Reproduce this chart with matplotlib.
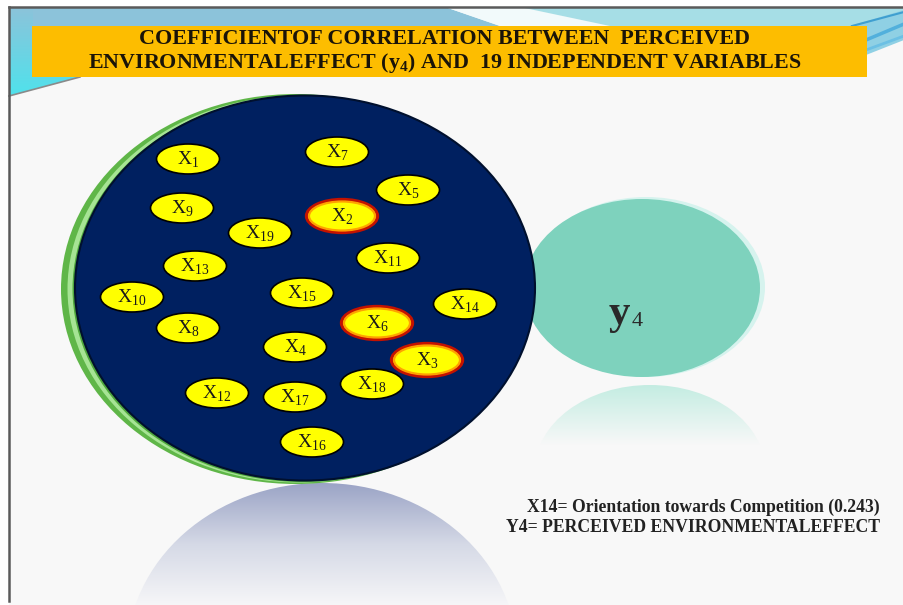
import numpy as np
import matplotlib
matplotlib.use("Agg")
import matplotlib.pyplot as plt
from matplotlib.patches import Ellipse, Rectangle, Polygon
from matplotlib.colors import LinearSegmentedColormap

plt.rcParams['mathtext.fontset'] = 'custom'
plt.rcParams['mathtext.rm'] = 'Liberation Serif'
plt.rcParams['mathtext.bf'] = 'Liberation Serif:bold'

# ---------------- data ----------------
title_lines = ["COEFFICIENTOF CORRELATION BETWEEN  PERCEIVED",
               r"ENVIRONMENTALEFFECT (y$_{\mathbf{4}}$) AND  19 INDEPENDENT VARIABLES"]
var_ids = [1, 7, 5, 9, 2, 19, 11, 13, 10, 15, 14, 8, 6, 4, 3, 12, 17, 18, 16]
var_x = [188, 337, 408, 182, 342, 260, 388, 195, 132, 302, 465, 188, 377, 295, 427, 217, 295, 372, 312]
var_y = [159, 152, 190, 208, 216, 233, 258, 266, 297, 293, 304, 328, 323, 347, 360, 393, 397, 384, 442]
highlighted = [2, 6, 3]
target_label = "y"
target_sub = "4"
note_lines = ["X14= Orientation towards Competition (0.243)",
              "Y4= PERCEIVED ENVIRONMENTALEFFECT"]

W, H = 904, 605
fig = plt.figure(figsize=(W / 100, H / 100), dpi=100)
ax = fig.add_axes([0, 0, 1, 1])
ax.set_xlim(0, W)
ax.set_ylim(H, 0)
ax.axis('off')
fig.patch.set_facecolor('white')

def vgrad(x0, x1, y0, y1, colors, clip=None, z=1, alpha=1.0):
    cmap = LinearSegmentedColormap.from_list('g', colors)
    arr = np.linspace(0, 1, 256).reshape(-1, 1)
    im = ax.imshow(arr, cmap=cmap, extent=(x0, x1, y1, y0), origin='upper',
                   aspect='auto', zorder=z, interpolation='bilinear', alpha=alpha)
    if clip is not None:
        im.set_clip_path(clip)
    return im

# background slide
ax.add_patch(Rectangle((9, 7), W - 9, H - 7, facecolor='#f8f8f8', edgecolor='none', zorder=0))

# top band
ax.add_patch(Polygon([(9, 7), (445, 7), (500, 26), (9, 26)], closed=True,
                     facecolor='#8cc3da', edgecolor='none', zorder=1))
ax.add_patch(Polygon([(445, 7), (520, 7), (610, 26), (500, 26)], closed=True,
                     facecolor='#f2fafb', edgecolor='none', zorder=1))
ax.add_patch(Polygon([(520, 7), (W, 7), (W, 26), (610, 26)], closed=True,
                     facecolor='#a6dee6', edgecolor='none', zorder=1))
# right swooshes
ax.add_patch(Polygon([(850, 26), (W, 10), (W, 40), (866, 55), (866, 26)], closed=True,
                     facecolor='#8fd0e4', edgecolor='none', zorder=1))
ax.plot([852, W], [26, 12], color='#3f9fd0', lw=1.5, zorder=2)
ax.plot([866, W], [40, 24], color='#52b0dc', lw=2.5, zorder=2)
ax.plot([866, W], [50, 36], color='#6cc0e4', lw=2, zorder=2)
# left strip and wedge
lclip = Polygon([(9, 7), (33, 7), (33, 77), (80, 77), (9, 96)], closed=True,
                facecolor='none', edgecolor='none')
ax.add_patch(lclip)
vgrad(9, 80, 7, 96, ['#8cc3da', '#4fe2ec'], clip=lclip, z=1)
ax.plot([9, 80], [96, 77], color='#8a8a8a', lw=1.2, zorder=2)

# frame lines
ax.plot([9, W], [7, 7], color='#5a5a5a', lw=1.8, zorder=3)
ax.plot([9, 9], [7, 601], color='#5a5a5a', lw=1.8, zorder=3)

# title box
ax.add_patch(Rectangle((32, 26), 835, 51, facecolor='#fdbd00', edgecolor='none', zorder=4))
ax.text(445, 39, title_lines[0], ha='center', va='center', fontsize=15.8,
        fontweight='bold', family='Liberation Serif', color='#1a1408', zorder=5)
ax.text(445, 63, title_lines[1], ha='center', va='center', fontsize=15.8,
        fontweight='bold', family='Liberation Serif', color='#1a1408', zorder=5)

# reflection under big disk
rclip = Ellipse((322, 655), 390, 344, facecolor='none', edgecolor='none')
ax.add_patch(rclip)
vgrad(120, 530, 483, 605, ['#9ba4c6', '#d5d9e6', '#f6f6f8'], clip=rclip, z=2)

# y4 reflection
tclip = Ellipse((650, 470), 230, 170, facecolor='none', edgecolor='none')
ax.add_patch(tclip)
vgrad(530, 770, 383, 445, ['#c2ece1', '#f8f8f8'], clip=tclip, z=2)

# y4 target ellipse
ax.add_patch(Ellipse((646, 287), 238, 180, facecolor='#d6f3ee', edgecolor='none', zorder=3))
ax.add_patch(Ellipse((642, 288), 236, 178, facecolor='#7ed2bd', edgecolor='none', zorder=3))
ax.text(619, 314, target_label, ha='center', va='center', fontsize=31,
        fontweight='bold', family='Liberation Serif', color='#2a2a2a', zorder=4)
ax.text(637, 322, target_sub, ha='center', va='center', fontsize=16,
        family='Liberation Serif', color='#2a2a2a', zorder=4)

# green rim + navy disk
ax.add_patch(Ellipse((296, 289), 470, 390, facecolor='#5fb648', edgecolor='none', zorder=5))
ax.add_patch(Ellipse((299, 289), 463, 387, facecolor='#a6e494', edgecolor='none', zorder=5))
ax.add_patch(Ellipse((302, 289), 459, 386, facecolor='#4fa83c', edgecolor='none', zorder=5))
ax.add_patch(Ellipse((305, 288), 460, 385, facecolor='#002060', edgecolor='#00102e',
                     lw=1.5, zorder=6))

# variable ellipses
for vid, x, y in zip(var_ids, var_x, var_y):
    if vid in highlighted:
        ax.add_patch(Ellipse((x, y), 71, 33, facecolor='#ffff00', edgecolor='#c41200',
                             lw=2.4, zorder=7))
        ax.add_patch(Ellipse((x, y), 66, 29, facecolor='none', edgecolor='#ffa200',
                             lw=1.6, zorder=7))
    else:
        ax.add_patch(Ellipse((x, y), 63, 30, facecolor='#ffff00', edgecolor='#000000',
                             lw=1.2, zorder=7))
    ax.text(x, y + 1, r"X$_{\mathrm{%d}}$" % vid, ha='center', va='center', fontsize=14,
            family='Liberation Serif', color='#1a1a1a', zorder=8)

# notes
ax.text(880, 507, note_lines[0], ha='right', va='center', fontsize=12.7,
        fontweight='bold', family='Liberation Serif', color='#222222', zorder=5)
ax.text(880, 527, note_lines[1], ha='right', va='center', fontsize=12.7,
        fontweight='bold', family='Liberation Serif', color='#222222', zorder=5)

ax.set_xlim(0, W)
ax.set_ylim(H, 0)
fig.savefig('out.png', dpi=100)
